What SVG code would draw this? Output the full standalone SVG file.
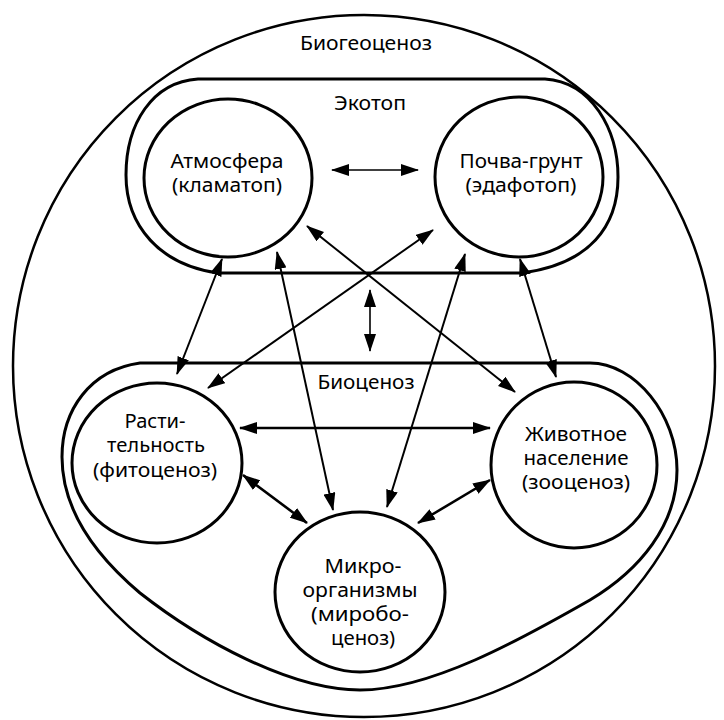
<svg xmlns="http://www.w3.org/2000/svg" width="724" height="720" viewBox="0 0 724 720">
<style>
.o{fill:none;stroke:#000;stroke-width:2.5}
.n{fill:none;stroke:#000;stroke-width:3}
.t{font-family:"Noto Sans","Open Sans","Liberation Sans",sans-serif;font-size:19px;fill:#000;text-anchor:middle}
.a{stroke:#000;stroke-width:2;fill:none;marker-start:url(#ah);marker-end:url(#ah)}
.a1{stroke-width:1.6}
.a3{stroke-width:2.6}
</style>
<defs>
<marker id="ah" viewBox="0 0 18 12" refX="17" refY="6" markerWidth="18" markerHeight="12" markerUnits="userSpaceOnUse" orient="auto-start-reverse">
<path d="M0,0 L18,6 L0,12 Z" fill="#000"/>
</marker>
</defs>
<rect width="724" height="720" fill="#fff"/>

<g id="biogeocenosis">
<ellipse class="o" cx="364" cy="366" rx="351" ry="351"/>
<text class="t" x="366" y="50" textLength="132" lengthAdjust="spacingAndGlyphs">Биогеоценоз</text>
</g>

<g id="ecotope">
<path class="n" d="M198,79 H545 C592,82 618,130 618,177 C618,226 590,264 522,273 H218 C160,265 126,226 126,175 C126,124 152,82 198,79 Z"/>
<text class="t" x="370" y="110" textLength="72" lengthAdjust="spacingAndGlyphs">Экотоп</text>
</g>

<g id="biocenosis">
<path class="n" d="M140,363 H590 C635,363 677,415 677,470 C677,525 640,570 590,600 C520,640 430,690 360,690 C290,690 200,640 140,593 C95,555 62,510 62,457 C62,410 90,370 140,363 Z"/>
<text class="t" x="366" y="389" textLength="97" lengthAdjust="spacingAndGlyphs">Биоценоз</text>
</g>

<g id="atmosphere">
<ellipse class="n" cx="228" cy="178" rx="84" ry="79"/>
<text class="t" x="227" y="168" textLength="113" lengthAdjust="spacingAndGlyphs">Атмосфера</text>
<text class="t" x="227" y="192" textLength="110" lengthAdjust="spacingAndGlyphs">(кламатоп)</text>
</g>

<g id="soil">
<ellipse class="n" cx="519" cy="177" rx="84" ry="80"/>
<text class="t" x="521" y="168" textLength="123" lengthAdjust="spacingAndGlyphs">Почва-грунт</text>
<text class="t" x="521" y="192" textLength="111" lengthAdjust="spacingAndGlyphs">(эдафотоп)</text>
</g>

<g id="vegetation">
<ellipse class="n" cx="157" cy="463" rx="85" ry="80"/>
<text class="t" x="155" y="428" textLength="61" lengthAdjust="spacingAndGlyphs">Расти-</text>
<text class="t" x="156" y="452" textLength="98" lengthAdjust="spacingAndGlyphs">тельность</text>
<text class="t" x="155" y="477" textLength="124" lengthAdjust="spacingAndGlyphs">(фитоценоз)</text>
</g>

<g id="animals">
<ellipse class="n" cx="574" cy="465" rx="83" ry="83"/>
<text class="t" x="576" y="441" textLength="102" lengthAdjust="spacingAndGlyphs">Животное</text>
<text class="t" x="576" y="465" textLength="105" lengthAdjust="spacingAndGlyphs">население</text>
<text class="t" x="576" y="489" textLength="108" lengthAdjust="spacingAndGlyphs">(зооценоз)</text>
</g>

<g id="microorganisms">
<ellipse class="n" cx="360" cy="592" rx="85" ry="80"/>
<text class="t" x="363" y="573" textLength="77" lengthAdjust="spacingAndGlyphs">Микро-</text>
<text class="t" x="360" y="597" textLength="115" lengthAdjust="spacingAndGlyphs">организмы</text>
<text class="t" x="360" y="621" textLength="98" lengthAdjust="spacingAndGlyphs">(миробо-</text>
<text class="t" x="363" y="645" textLength="64" lengthAdjust="spacingAndGlyphs">ценоз)</text>
</g>

<g id="connectors">
<line class="a a1" x1="332" y1="170" x2="418" y2="170"/>
<line class="a a1" x1="370" y1="290" x2="370" y2="351"/>
<line class="a" x1="222" y1="259" x2="177" y2="374"/>
<line class="a" x1="277" y1="252" x2="333" y2="510"/>
<line class="a" x1="307" y1="226" x2="515" y2="392"/>
<line class="a" x1="433" y1="230" x2="208" y2="388"/>
<line class="a" x1="465" y1="254" x2="387" y2="507"/>
<line class="a" x1="520" y1="259" x2="556" y2="377"/>
<line class="a a3" x1="240" y1="428" x2="490" y2="428"/>
<line class="a a3" x1="243" y1="475" x2="307" y2="523"/>
<line class="a a3" x1="490" y1="480" x2="418" y2="523"/>
</g>
</svg>
